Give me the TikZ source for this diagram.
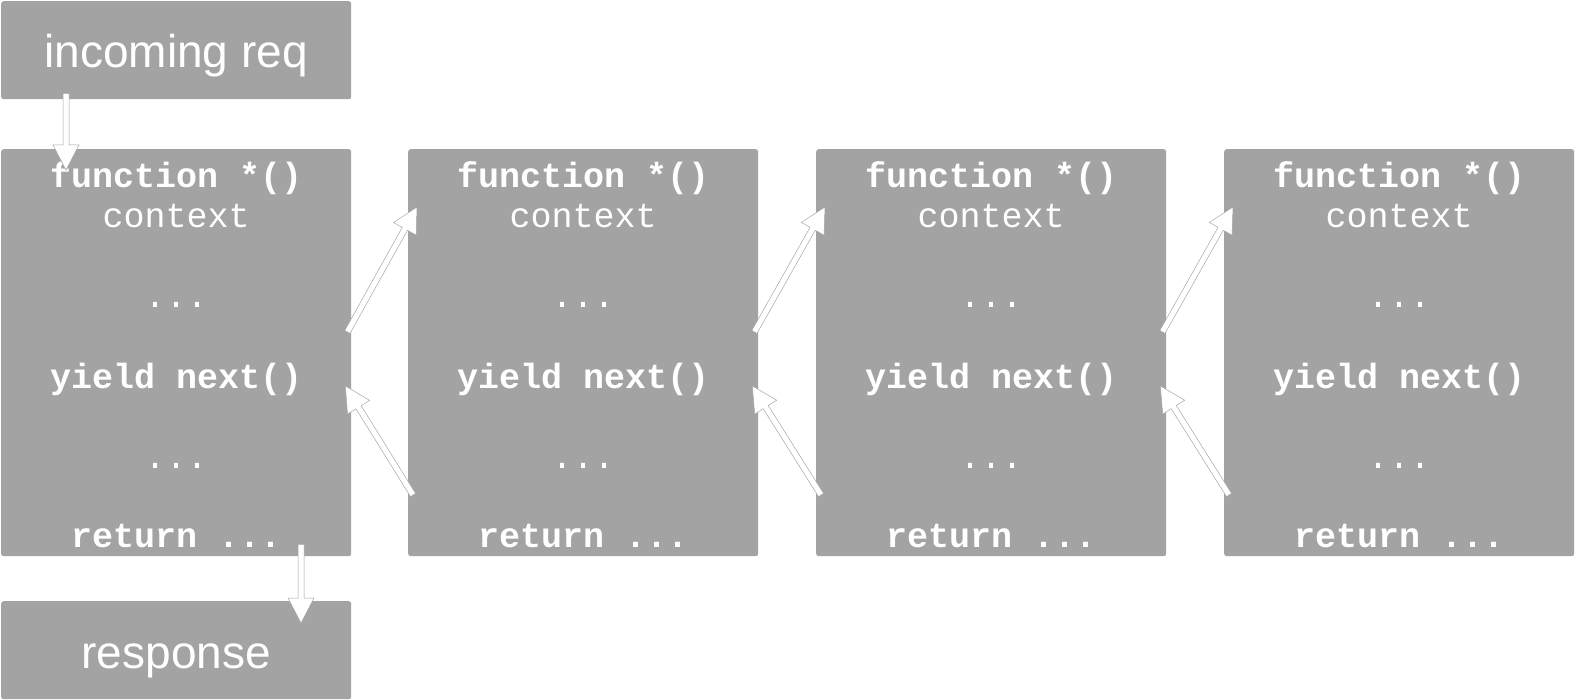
\documentclass[tikz,border=0pt]{standalone}
\usepackage{fontspec}
\setmainfont{Liberation Sans}
\newfontfamily\codefont{Liberation Mono}
\usetikzlibrary{calc}
\definecolor{boxgray}{HTML}{A3A3A3}
\tikzset{
  gbox/.style={fill=boxgray, rounded corners=2.5pt, inner sep=0pt, minimum width=350pt, anchor=north west},
  codeb/.style={text=white, inner sep=0pt, anchor=base, font=\codefont\bfseries\fontsize{35}{40}\selectfont},
  codel/.style={text=white, inner sep=0pt, anchor=base, font=\codefont\fontsize{35}{40}\selectfont},
  lbl/.style={text=white, inner sep=0pt, anchor=base, font=\fontsize{46}{50}\selectfont},
  fat/.style={fill=white, draw=black!35, line width=0.5pt, line join=miter}
}
\newcommand\myfatarrow[2]{%
  \coordinate (fh) at ($(#2)!25pt!(#1)$);
  \draw[fat] ($(#1)!3pt!90:(#2)$) -- ($(fh)!3pt!90:(#2)$) -- ($(fh)!13pt!90:(#2)$) -- (#2)
    -- ($(fh)!13pt!-90:(#2)$) -- ($(fh)!3pt!-90:(#2)$) -- ($(#1)!3pt!-90:(#2)$) -- cycle;
}
\begin{document}
\begin{tikzpicture}[x=1pt,y=-1pt]
\useasboundingbox (0,0) rectangle (1576,700);
\node[gbox, minimum height=98pt] (req) at (1,1) {};
\node[lbl] (reqt) at ($(req.north)+(0,67)$) {incoming req};
\node[gbox, minimum height=98pt] (resp) at (1,601) {};
\node[lbl] (respt) at ($(resp.north)+(0,67)$) {response};
\foreach \i/\x in {1/1,2/408,3/816,4/1224}{
  \node[gbox, minimum height=407pt] (b\i) at (\x,149) {};
  \node[codeb] (f\i) at ($(b\i.north)+(0,39)$) {function *()};
  \node[codel] (c\i) at ($(b\i.north)+(0,79)$) {context};
  \node[codel] (d\i) at ($(b\i.north)+(0,159)$) {...};
  \node[codeb] (y\i) at ($(b\i.north)+(0,239)$) {yield next()};
  \node[codel] (e\i) at ($(b\i.north)+(0,319)$) {...};
  \node[codeb] (r\i) at ($(b\i.north)+(0,398)$) {return ...};
}
\coordinate (ia) at ($(req.south west)+(65,-6)$);
\coordinate (ib) at ($(b1.north west)+(65,21)$);
\myfatarrow{ia}{ib}
\coordinate (oa) at ($(b1.south west)+(300,-12)$);
\coordinate (ob) at ($(resp.north west)+(300,22)$);
\myfatarrow{oa}{ob}
\foreach \i/\j in {1/2,2/3,3/4}{
  \coordinate (ua\i) at ($(b\i.north east)+(-4,183)$);
  \coordinate (ub\i) at ($(b\j.north west)+(9,58)$);
  \myfatarrow{ua\i}{ub\i}
  \coordinate (va\i) at ($(b\j.north west)+(5,346)$);
  \coordinate (vb\i) at ($(b\i.north east)+(-6,237)$);
  \myfatarrow{va\i}{vb\i}
}
\end{tikzpicture}
\end{document}
